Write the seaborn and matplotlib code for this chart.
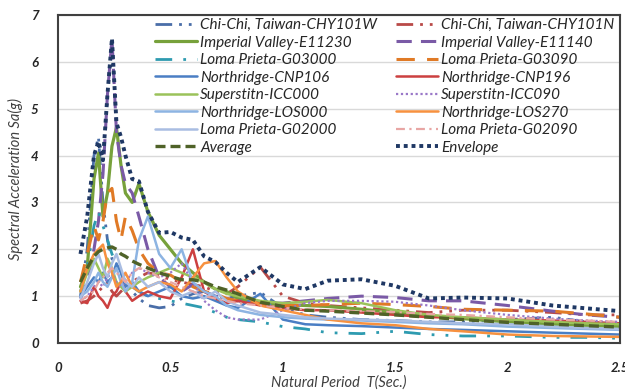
import matplotlib
matplotlib.use("Agg")
import matplotlib.pyplot as plt
import seaborn as sns
import numpy as np

# ---------------- data ----------------
periods = [0.10, 0.13, 0.16, 0.18, 0.20, 0.22, 0.24, 0.26, 0.28, 0.30, 0.33, 0.36, 0.40,
           0.45, 0.50, 0.55, 0.60, 0.65, 0.70, 0.75, 0.80, 0.90, 1.00, 1.10, 1.20, 1.35,
           1.50, 1.65, 1.80, 2.00, 2.20, 2.35, 2.50]

chichi_w = [1.0, 2.0, 4.0, 4.4, 3.0, 2.2, 1.8, 1.6, 1.5, 1.3, 1.1, 0.95, 0.8,
            0.75, 0.78, 0.95, 1.05, 1.1, 1.0, 0.95, 1.0, 1.08, 0.75, 0.6, 0.55, 0.5,
            0.48, 0.45, 0.45, 0.5, 0.55, 0.45, 0.4]
chichi_n = [0.85, 0.9, 1.0, 1.1, 1.2, 1.3, 1.1, 1.0, 1.1, 1.2, 1.3, 1.4, 1.5,
            1.45, 1.35, 1.3, 1.25, 1.2, 1.1, 1.05, 1.2, 1.62, 1.0, 0.85, 0.8, 0.75,
            0.7, 0.65, 0.7, 0.7, 0.65, 0.6, 0.6]
imp_e11230 = [1.2, 1.6, 3.5, 4.05, 2.7, 3.2, 4.2, 4.6, 3.8, 3.2, 3.0, 3.4, 2.8,
              2.3, 2.0, 1.7, 1.5, 1.3, 1.15, 1.1, 0.95, 0.85, 0.82, 0.8, 0.78, 0.72,
              0.65, 0.58, 0.52, 0.45, 0.4, 0.37, 0.35]
imp_e11140 = [0.95, 1.3, 2.0, 2.6, 3.6, 5.3, 6.5, 4.5, 3.8, 3.4, 3.2, 2.7, 2.0,
              1.4, 1.2, 1.1, 1.25, 1.1, 1.0, 0.95, 0.9, 0.85, 0.85, 0.9, 0.95, 1.0,
              0.97, 0.9, 0.9, 0.8, 0.68, 0.6, 0.55]
loma_g03000 = [1.1, 1.6, 2.5, 2.8, 2.5, 2.2, 1.9, 1.7, 1.5, 1.3, 1.2, 1.1, 1.0,
               0.95, 0.9, 0.85, 0.8, 0.75, 0.65, 0.55, 0.5, 0.45, 0.35, 0.3, 0.22, 0.2,
               0.25, 0.18, 0.15, 0.15, 0.12, 0.12, 0.1]
loma_g03090 = [1.3, 1.9, 2.5, 2.2, 2.6, 3.2, 3.3, 2.6, 2.2, 2.7, 2.4, 2.0, 1.7,
               1.5, 1.45, 1.3, 1.2, 1.1, 1.05, 0.95, 0.9, 0.85, 0.8, 0.8, 0.82, 0.85,
               0.82, 0.78, 0.72, 0.7, 0.68, 0.62, 0.55]
north_cnp106 = [1.0, 1.2, 1.4, 1.3, 1.5, 1.3, 1.4, 1.7, 1.5, 1.2, 1.3, 1.1, 1.0,
                1.1, 1.2, 1.0, 0.95, 1.0, 0.9, 0.8, 0.75, 1.05, 0.5, 0.4, 0.38, 0.36,
                0.33, 0.3, 0.28, 0.25, 0.22, 0.2, 0.18]
north_cnp196 = [0.9, 0.85, 1.2, 1.0, 0.9, 0.75, 1.0, 1.1, 1.3, 1.1, 0.9, 1.0, 1.1,
                1.0, 0.95, 1.4, 2.0, 1.1, 0.95, 0.85, 0.9, 0.8, 0.75, 0.7, 0.7, 0.65,
                0.6, 0.55, 0.55, 0.5, 0.48, 0.45, 0.42]
super_icc000 = [1.1, 1.5, 1.8, 1.6, 1.4, 1.8, 1.6, 1.3, 1.2, 1.1, 1.2, 1.3, 1.4,
                1.5, 1.6, 1.5, 1.4, 1.3, 1.15, 1.05, 1.0, 0.9, 0.85, 0.88, 0.92, 0.85,
                0.7, 0.6, 0.55, 0.5, 0.45, 0.42, 0.4]
super_icc090 = [0.9, 1.0, 1.2, 1.3, 1.2, 1.4, 1.5, 1.3, 1.2, 1.3, 1.5, 1.6, 1.5,
                1.4, 1.5, 1.7, 1.3, 0.9, 0.7, 0.55, 0.5, 0.5, 0.7, 0.85, 0.9, 0.9,
                0.88, 0.8, 0.7, 0.6, 0.52, 0.48, 0.45]
north_los000 = [1.0, 1.1, 1.3, 1.5, 1.3, 1.2, 1.4, 1.6, 1.3, 1.1, 1.3, 2.2, 2.7,
                1.9, 1.6, 2.0, 1.3, 1.1, 1.0, 0.8, 0.7, 0.6, 0.55, 0.52, 0.5, 0.48,
                0.45, 0.42, 0.4, 0.35, 0.32, 0.3, 0.28]
north_los270 = [1.1, 1.6, 1.9, 2.0, 2.1, 1.7, 1.5, 1.2, 1.3, 1.5, 1.2, 1.1, 1.2,
                1.3, 1.25, 1.1, 1.4, 1.7, 1.75, 1.4, 1.1, 0.8, 0.7, 0.6, 0.5, 0.42,
                0.38, 0.3, 0.25, 0.18, 0.15, 0.14, 0.13]
loma_g02000 = [0.95, 1.3, 1.7, 1.9, 1.6, 1.4, 1.7, 1.9, 1.6, 1.3, 1.2, 1.4, 1.2,
               1.3, 1.1, 1.0, 1.1, 0.95, 1.1, 0.9, 0.8, 0.65, 0.6, 0.55, 0.52, 0.5,
               0.48, 0.45, 0.42, 0.4, 0.35, 0.32, 0.3]
loma_g02090 = [0.9, 1.0, 1.1, 1.3, 1.4, 1.5, 1.6, 1.5, 1.4, 1.3, 1.5, 1.6, 1.55,
               1.4, 1.3, 1.2, 1.1, 1.0, 0.95, 0.9, 0.85, 0.8, 0.75, 0.72, 0.7, 0.68,
               0.66, 0.62, 0.6, 0.55, 0.5, 0.48, 0.45]
average = [1.3, 1.6, 1.85, 1.95, 2.0, 2.03, 2.05, 2.0, 1.9, 1.85, 1.75, 1.68, 1.6,
           1.5, 1.42, 1.35, 1.35, 1.3, 1.2, 1.13, 1.05, 0.87, 0.78, 0.7, 0.68, 0.64,
           0.6, 0.55, 0.5, 0.44, 0.4, 0.37, 0.34]
envelope = [1.9, 2.7, 4.0, 4.3, 3.9, 5.3, 6.5, 4.7, 4.4, 4.0, 3.5, 3.45, 2.8,
            2.35, 2.37, 2.25, 2.2, 1.85, 1.73, 1.5, 1.3, 1.62, 1.25, 1.15, 1.33, 1.36,
            1.22, 0.95, 0.97, 0.95, 0.8, 0.74, 0.68]

labels = ["Chi-Chi, Taiwan-CHY101W", "Chi-Chi, Taiwan-CHY101N",
          "Imperial Valley-E11230", "Imperial Valley-E11140",
          "Loma Prieta-G03000", "Loma Prieta-G03090",
          "Northridge-CNP106", "Northridge-CNP196",
          "Superstitn-ICC000", "Superstitn-ICC090",
          "Northridge-LOS000", "Northridge-LOS270",
          "Loma Prieta-G02000", "Loma Prieta-G02090",
          "Average", "Envelope"]
y_ticks = [0, 1, 2, 3, 4, 5, 6, 7]
x_ticks = [0, 0.5, 1, 1.5, 2, 2.5]
x_tick_labels = ["0", "0.5", "1", "1.5", "2", "2.5"]

series = [chichi_w, chichi_n, imp_e11230, imp_e11140, loma_g03000, loma_g03090,
          north_cnp106, north_cnp196, super_icc000, super_icc090, north_los000,
          north_los270, loma_g02000, loma_g02090, average, envelope]

# ---------------- styles ----------------
styles = [
    dict(color="#4a6ea8", lw=2.0, ls=(0, (6, 2.5, 1, 2.5, 1, 2.5))),
    dict(color="#b94a48", lw=2.0, ls=(0, (6, 2.5, 1, 2.5, 1, 2.5))),
    dict(color="#77a13b", lw=2.3, ls="-"),
    dict(color="#7a5aa6", lw=2.2, ls=(0, (5, 3))),
    dict(color="#2e9bb0", lw=2.0, ls=(0, (6, 4, 1, 4, 1, 4))),
    dict(color="#e07a26", lw=2.2, ls=(0, (6, 4))),
    dict(color="#4a7ec4", lw=1.8, ls="-"),
    dict(color="#cc4040", lw=1.8, ls="-"),
    dict(color="#9bc25a", lw=1.8, ls="-"),
    dict(color="#9a78c8", lw=1.6, ls=(0, (1, 1.2))),
    dict(color="#8db4e2", lw=1.8, ls="-"),
    dict(color="#f7913f", lw=1.8, ls="-"),
    dict(color="#a9bde2", lw=1.8, ls="-"),
    dict(color="#e8a6a4", lw=1.6, ls=(0, (4, 2, 1, 2))),
    dict(color="#4f6228", lw=2.4, ls=(0, (3, 1.5))),
    dict(color="#1f3864", lw=2.8, ls=(0, (1, 1))),
]

sns.set_style("white")
plt.rcParams["font.family"] = ["Lato", "DejaVu Sans"]

fig = plt.figure(figsize=(6.25, 3.92), dpi=100)
ax = fig.add_axes([58 / 625, 1 - 343 / 392, 562 / 625, 328 / 392])

handles = {}
for lab, vals, st in zip(labels, series, styles):
    sns.lineplot(x=periods, y=vals, ax=ax, color=st["color"], linewidth=st["lw"],
                 linestyle=st["ls"], estimator=None, sort=False, legend=False,
                 label=lab)
    handles[lab] = ax.get_lines()[-1]

ax.set_xlim(0, 2.5)
ax.set_ylim(0, 7)
ax.set_yticks(y_ticks)
ax.set_xticks(x_ticks)
ax.set_xticklabels(x_tick_labels)
ax.yaxis.grid(True, color="#d9d9d9", lw=1)
ax.xaxis.grid(False)
ax.set_axisbelow(True)
for s in ax.spines.values():
    s.set_visible(True)
    s.set_color("#404040")
    s.set_linewidth(1.5)
ax.tick_params(axis="both", direction="out", length=4, width=1, color="#595959",
               labelcolor="#262626", labelsize=9.5)
ax.tick_params(axis="y", pad=10)
ax.tick_params(axis="x", pad=10)
for t in ax.get_xticklabels() + ax.get_yticklabels():
    t.set_fontweight("bold")
    t.set_fontstyle("italic")

ax.set_xlabel("Natural Period  T(Sec.)", fontsize=10.5, style="italic", color="#404040",
              labelpad=1)
ax.set_ylabel("Spectral Acceleration Sa(g)", fontsize=10.5, style="italic",
              color="#404040", labelpad=6)

left_col = [labels[i] for i in (0, 2, 4, 6, 8, 10, 12, 14)]
right_col = [labels[i] for i in (1, 3, 5, 7, 9, 11, 13, 15)]
leg_kw = dict(frameon=False, handlelength=2.75, handletextpad=0.2,
              labelspacing=0.23, borderpad=0, borderaxespad=0, loc="upper left",
              prop={"style": "italic", "size": 11})
leg1 = ax.legend([handles[l] for l in left_col], left_col,
                 bbox_to_anchor=(155 / 625, 1 - 18 / 392),
                 bbox_transform=fig.transFigure, **leg_kw)
ax.add_artist(leg1)
leg2 = ax.legend([handles[l] for l in right_col], right_col,
                 bbox_to_anchor=(396 / 625, 1 - 18 / 392),
                 bbox_transform=fig.transFigure, **leg_kw)
for lg in (leg1, leg2):
    for t in lg.get_texts():
        t.set_color("#262626")

fig.savefig("out.png", dpi=100, facecolor="white")
